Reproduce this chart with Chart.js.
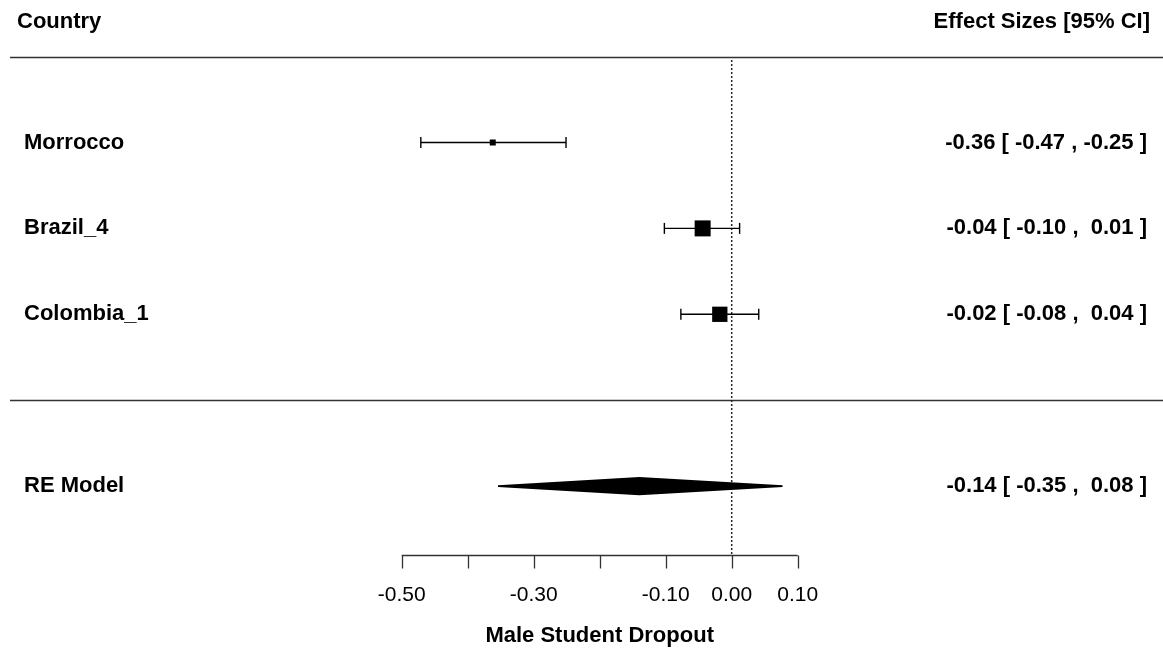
<!DOCTYPE html>
<html>
<head>
<meta charset="utf-8">
<script src="https://cdn.jsdelivr.net/npm/chart.js@4.4.1/dist/chart.umd.min.js"></script>
<style>
  html, body { margin: 0; padding: 0; background: #fff; }
  #wrap { width: 1163px; height: 651px; position: relative; }
</style>
</head>
<body>
<div id="wrap"><canvas id="forest"></canvas></div>
<script>
// study data
const studies = ['Morrocco', 'Brazil_4', 'Colombia_1'];
const estimates = [-0.362, -0.044, -0.018];
const ciLower = [-0.471, -0.102, -0.077];
const ciUpper = [-0.251, 0.012, 0.041];
const rows = [3, 2, 1];

// pooled random effects model
const modelLabel = 'RE Model';
const modelEst = [-0.14];
const modelLower = [-0.354];
const modelUpper = [0.077];
const modelRow = -1;

// x axis
const tickValues = [-0.5, -0.4, -0.3, -0.2, -0.1, 0, 0.1];
const tickLabels = ['-0.50', '', '-0.30', '', '-0.10', '0.00', '0.10'];
const xTitle = 'Male Student Dropout';

const FONT = "'Liberation Sans', Arial, sans-serif";

function fmt(v) {
    const s = v.toFixed(2);
    return v < 0 ? s : ' ' + s;
}
function annot(e, l, u) {
    return fmt(e) + ' [ ' + fmt(l) + ' , ' + fmt(u) + ' ]';
}

// square size from precision of each study
const prec = ciLower.map((l, i) => 3.92 / (ciUpper[i] - l));
const pMin = Math.min(...prec), pMax = Math.max(...prec);
function squareSide(i) {
    return 6 + (prec[i] - pMin) / (pMax - pMin) * 10;
}

const datasets = [];

// reference line at 0
datasets.push({
    data: [{ x: 0, y: 3.96 }, { x: 0, y: -1.8 }],
    showLine: true,
    borderColor: '#222',
    borderWidth: 1.5,
    borderDash: [2, 2],
    pointRadius: 0,
    order: 5,
});

// whiskers
studies.forEach((s, i) => {
    datasets.push({
        data: [{ x: ciLower[i], y: rows[i] }, { x: ciUpper[i], y: rows[i] }],
        showLine: true,
        borderColor: '#000',
        borderWidth: 1.4,
        pointStyle: 'line',
        rotation: 90,
        pointRadius: 5.5,
        pointBorderColor: '#000',
        pointBorderWidth: 1.4,
        order: 2,
    });
});

// squares
datasets.push({
    data: studies.map((s, i) => ({ x: estimates[i], y: rows[i] })),
    pointStyle: 'rect',
    pointRadius: (ctx) => squareSide(ctx.dataIndex) / Math.SQRT2,
    backgroundColor: '#000',
    borderWidth: 0,
    order: 0,
});

// diamond for the pooled estimate
const dh = 0.095;
datasets.push({
    data: [
        { x: modelLower[0], y: modelRow },
        { x: modelEst[0], y: modelRow + dh },
        { x: modelUpper[0], y: modelRow },
        { x: modelEst[0], y: modelRow - dh },
        { x: modelLower[0], y: modelRow },
    ],
    showLine: true,
    fill: 'shape',
    backgroundColor: '#000',
    borderColor: '#000',
    borderWidth: 1.8,
    pointRadius: 0,
    order: 1,
});

const forestDecor = {
    id: 'forestDecor',
    beforeDatasetsDraw(chart) {
        const { ctx, chartArea, scales: { x, y } } = chart;
        ctx.save();
        ctx.strokeStyle = '#333';
        ctx.lineWidth = 1.5;
        [4, 0].forEach((r) => {
            const py = Math.round(y.getPixelForValue(r)) + 0.5;
            ctx.beginPath();
            ctx.moveTo(10, py);
            ctx.lineTo(chartArea.right, py);
            ctx.stroke();
        });

        // axis
        const ay = Math.round(y.getPixelForValue(-1.8)) + 0.5;
        ctx.lineWidth = 1.3;
        ctx.beginPath();
        ctx.moveTo(x.getPixelForValue(tickValues[0]), ay);
        ctx.lineTo(x.getPixelForValue(tickValues[tickValues.length - 1]), ay);
        tickValues.forEach((t) => {
            const px = Math.round(x.getPixelForValue(t)) + 0.5;
            ctx.moveTo(px, ay);
            ctx.lineTo(px, ay + 13);
        });
        ctx.stroke();
        ctx.restore();
    },
    afterDatasetsDraw(chart) {
        const { ctx, scales: { x, y } } = chart;
        ctx.save();
        ctx.fillStyle = '#000';
        ctx.textBaseline = 'middle';

        ctx.font = '21px ' + FONT;
        ctx.textAlign = 'center';
        tickValues.forEach((t, i) => {
            if (tickLabels[i]) ctx.fillText(tickLabels[i], x.getPixelForValue(t), y.getPixelForValue(-2.27));
        });

        ctx.font = 'bold 22px ' + FONT;
        ctx.fillText(xTitle, x.getPixelForValue((tickValues[0] + tickValues[tickValues.length - 1]) / 2), y.getPixelForValue(-2.75));

        ctx.textAlign = 'left';
        ctx.fillText('Country', 17, y.getPixelForValue(4.4));
        studies.forEach((s, i) => ctx.fillText(s, 24, y.getPixelForValue(rows[i])));
        ctx.fillText(modelLabel, 24, y.getPixelForValue(modelRow));

        ctx.textAlign = 'right';
        ctx.fillText('Effect Sizes [95% CI]', 1150, y.getPixelForValue(4.4));
        studies.forEach((s, i) => {
            ctx.fillText(annot(estimates[i], ciLower[i], ciUpper[i]), 1147, y.getPixelForValue(rows[i]));
        });
        ctx.fillText(annot(modelEst[0], modelLower[0], modelUpper[0]), 1147, y.getPixelForValue(modelRow));
        ctx.restore();
    },
};

const chart = new Chart(document.getElementById('forest'), {
    type: 'scatter',
    data: { datasets },
    options: {
        responsive: true,
        maintainAspectRatio: false,
        animation: false,
        layout: { padding: 0, autoPadding: false },
        plugins: {
            legend: { display: false },
            tooltip: { enabled: false },
        },
        scales: {
            x: { type: 'linear', display: false, min: -1.1086, max: 0.6535 },
            y: { type: 'linear', display: false, min: -2.920, max: 4.659 },
        },
    },
    plugins: [forestDecor],
});
</script>
</body>
</html>
